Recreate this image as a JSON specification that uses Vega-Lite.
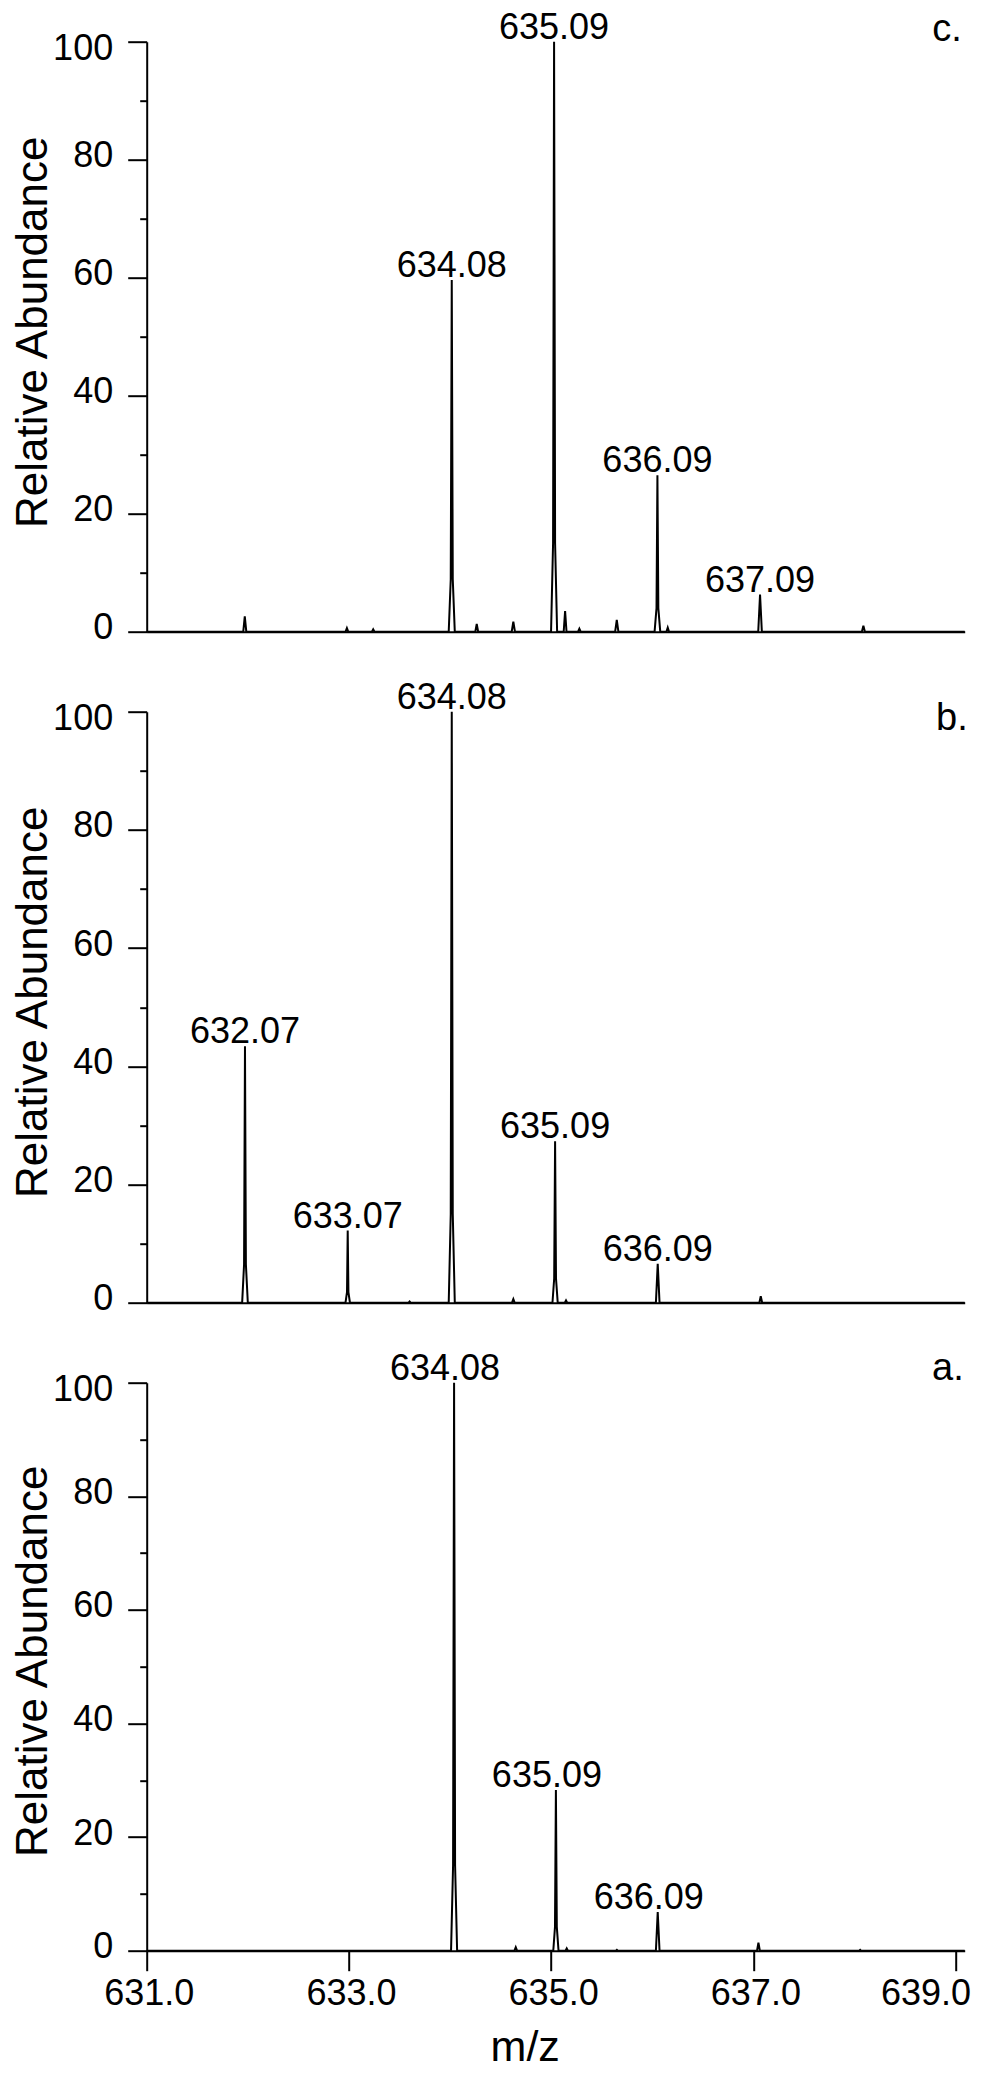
{
  "$schema": "https://vega.github.io/schema/vega-lite/v6.json",
  "autosize": {"type": "none"},
  "padding": {"left": 146.7, "top": 41.7, "right": 836.3, "bottom": 2032.3},
  "background": "white",
  "bounds": "flush",
  "spacing": 80,
  "datasets": {
    "spectrum": [
      {"panel": "c", "mz": 631.0, "ab": 0},
      {"panel": "c", "mz": 631.955, "ab": 0}, {"panel": "c", "mz": 631.97, "ab": 2.6}, {"panel": "c", "mz": 631.985, "ab": 0},
      {"panel": "c", "mz": 632.967, "ab": 0}, {"panel": "c", "mz": 632.98, "ab": 0.6}, {"panel": "c", "mz": 632.993, "ab": 0},
      {"panel": "c", "mz": 633.227, "ab": 0}, {"panel": "c", "mz": 633.24, "ab": 0.4}, {"panel": "c", "mz": 633.253, "ab": 0},
      {"panel": "c", "mz": 633.987, "ab": 0}, {"panel": "c", "mz": 634.007, "ab": 8.9}, {"panel": "c", "mz": 634.017, "ab": 59.6}, {"panel": "c", "mz": 634.027, "ab": 8.9}, {"panel": "c", "mz": 634.047, "ab": 0},
      {"panel": "c", "mz": 634.25, "ab": 0}, {"panel": "c", "mz": 634.264, "ab": 1.3}, {"panel": "c", "mz": 634.278, "ab": 0},
      {"panel": "c", "mz": 634.61, "ab": 0}, {"panel": "c", "mz": 634.626, "ab": 1.7}, {"panel": "c", "mz": 634.642, "ab": 0},
      {"panel": "c", "mz": 634.999, "ab": 0}, {"panel": "c", "mz": 635.019, "ab": 15}, {"panel": "c", "mz": 635.029, "ab": 100}, {"panel": "c", "mz": 635.039, "ab": 15}, {"panel": "c", "mz": 635.059, "ab": 0},
      {"panel": "c", "mz": 635.124, "ab": 0}, {"panel": "c", "mz": 635.138, "ab": 3.5}, {"panel": "c", "mz": 635.152, "ab": 0},
      {"panel": "c", "mz": 635.266, "ab": 0}, {"panel": "c", "mz": 635.279, "ab": 0.5}, {"panel": "c", "mz": 635.292, "ab": 0},
      {"panel": "c", "mz": 635.633, "ab": 0}, {"panel": "c", "mz": 635.649, "ab": 2.0}, {"panel": "c", "mz": 635.665, "ab": 0},
      {"panel": "c", "mz": 636.023, "ab": 0}, {"panel": "c", "mz": 636.042, "ab": 4}, {"panel": "c", "mz": 636.051, "ab": 26.5}, {"panel": "c", "mz": 636.06, "ab": 4}, {"panel": "c", "mz": 636.079, "ab": 0},
      {"panel": "c", "mz": 636.14, "ab": 0}, {"panel": "c", "mz": 636.153, "ab": 0.7}, {"panel": "c", "mz": 636.166, "ab": 0},
      {"panel": "c", "mz": 637.048, "ab": 0}, {"panel": "c", "mz": 637.066, "ab": 6.3}, {"panel": "c", "mz": 637.084, "ab": 0},
      {"panel": "c", "mz": 638.073, "ab": 0}, {"panel": "c", "mz": 638.088, "ab": 1.0}, {"panel": "c", "mz": 638.103, "ab": 0},
      {"panel": "c", "mz": 639.09, "ab": 0},

      {"panel": "b", "mz": 631.0, "ab": 0},
      {"panel": "b", "mz": 631.944, "ab": 0}, {"panel": "b", "mz": 631.963, "ab": 6.5}, {"panel": "b", "mz": 631.972, "ab": 43.4}, {"panel": "b", "mz": 631.981, "ab": 6.5}, {"panel": "b", "mz": 632.0, "ab": 0},
      {"panel": "b", "mz": 632.966, "ab": 0}, {"panel": "b", "mz": 632.981, "ab": 1.8}, {"panel": "b", "mz": 632.988, "ab": 12.2}, {"panel": "b", "mz": 632.995, "ab": 1.8}, {"panel": "b", "mz": 633.01, "ab": 0},
      {"panel": "b", "mz": 633.59, "ab": 0}, {"panel": "b", "mz": 633.6, "ab": 0.2}, {"panel": "b", "mz": 633.61, "ab": 0},
      {"panel": "b", "mz": 633.987, "ab": 0}, {"panel": "b", "mz": 634.007, "ab": 15}, {"panel": "b", "mz": 634.017, "ab": 100}, {"panel": "b", "mz": 634.027, "ab": 15}, {"panel": "b", "mz": 634.047, "ab": 0},
      {"panel": "b", "mz": 634.613, "ab": 0}, {"panel": "b", "mz": 634.626, "ab": 0.6}, {"panel": "b", "mz": 634.639, "ab": 0},
      {"panel": "b", "mz": 635.013, "ab": 0}, {"panel": "b", "mz": 635.03, "ab": 4.1}, {"panel": "b", "mz": 635.039, "ab": 27.3}, {"panel": "b", "mz": 635.048, "ab": 4.1}, {"panel": "b", "mz": 635.065, "ab": 0},
      {"panel": "b", "mz": 635.135, "ab": 0}, {"panel": "b", "mz": 635.147, "ab": 0.4}, {"panel": "b", "mz": 635.159, "ab": 0},
      {"panel": "b", "mz": 636.036, "ab": 0}, {"panel": "b", "mz": 636.054, "ab": 6.6}, {"panel": "b", "mz": 636.072, "ab": 0},
      {"panel": "b", "mz": 637.059, "ab": 0}, {"panel": "b", "mz": 637.073, "ab": 1.1}, {"panel": "b", "mz": 637.087, "ab": 0},
      {"panel": "b", "mz": 639.09, "ab": 0},

      {"panel": "a", "mz": 631.0, "ab": 0},
      {"panel": "a", "mz": 634.01, "ab": 0}, {"panel": "a", "mz": 634.03, "ab": 15}, {"panel": "a", "mz": 634.04, "ab": 100}, {"panel": "a", "mz": 634.05, "ab": 15}, {"panel": "a", "mz": 634.07, "ab": 0},
      {"panel": "a", "mz": 634.637, "ab": 0}, {"panel": "a", "mz": 634.65, "ab": 0.6}, {"panel": "a", "mz": 634.663, "ab": 0},
      {"panel": "a", "mz": 635.021, "ab": 0}, {"panel": "a", "mz": 635.038, "ab": 4.2}, {"panel": "a", "mz": 635.047, "ab": 28.3}, {"panel": "a", "mz": 635.056, "ab": 4.2}, {"panel": "a", "mz": 635.073, "ab": 0},
      {"panel": "a", "mz": 635.142, "ab": 0}, {"panel": "a", "mz": 635.154, "ab": 0.4}, {"panel": "a", "mz": 635.166, "ab": 0},
      {"panel": "a", "mz": 635.64, "ab": 0}, {"panel": "a", "mz": 635.65, "ab": 0.15}, {"panel": "a", "mz": 635.66, "ab": 0},
      {"panel": "a", "mz": 636.036, "ab": 0}, {"panel": "a", "mz": 636.054, "ab": 6.8}, {"panel": "a", "mz": 636.072, "ab": 0},
      {"panel": "a", "mz": 637.036, "ab": 0}, {"panel": "a", "mz": 637.05, "ab": 1.4}, {"panel": "a", "mz": 637.064, "ab": 0},
      {"panel": "a", "mz": 638.046, "ab": 0}, {"panel": "a", "mz": 638.056, "ab": 0.15}, {"panel": "a", "mz": 638.066, "ab": 0},
      {"panel": "a", "mz": 639.09, "ab": 0}
    ],
    "peaks": [
      {"panel": "c", "mz": 634.017, "ab": 59.6, "label": "634.08"},
      {"panel": "c", "mz": 635.029, "ab": 100, "label": "635.09"},
      {"panel": "c", "mz": 636.051, "ab": 26.5, "label": "636.09"},
      {"panel": "c", "mz": 637.066, "ab": 6.3, "label": "637.09"},
      {"panel": "b", "mz": 631.972, "ab": 43.4, "label": "632.07"},
      {"panel": "b", "mz": 632.988, "ab": 12.2, "label": "633.07"},
      {"panel": "b", "mz": 634.017, "ab": 100, "label": "634.08"},
      {"panel": "b", "mz": 635.039, "ab": 27.3, "label": "635.09"},
      {"panel": "b", "mz": 636.054, "ab": 6.6, "label": "636.09"},
      {"panel": "a", "mz": 634.04, "ab": 100, "label": "634.08"},
      {"panel": "a", "mz": 635.047, "ab": 28.3, "label": "635.09"},
      {"panel": "a", "mz": 636.054, "ab": 6.8, "label": "636.09"}
    ],
    "panelnames": [
      {"panel": "c", "letter": "c."},
      {"panel": "b", "letter": "b."},
      {"panel": "a", "letter": "a."}
    ]
  },
  "vconcat": [
    {
      "width": 818, "height": 590,
      "layer": [
        {"data": {"name": "spectrum"}, "transform": [{"filter": "datum.panel === 'c'"}],
         "mark": {"type": "line", "color": "black", "strokeWidth": 2},
         "encoding": {
           "x": {"field": "mz", "type": "quantitative", "scale": {"domain": [631, 639.09], "nice": false, "zero": false},
                 "axis": {"ticks": false, "labels": false, "title": null, "grid": false, "domainColor": "black", "domainWidth": 2}},
           "y": {"field": "ab", "type": "quantitative", "scale": {"domain": [0, 100], "nice": false},
                 "axis": {"values": [0,5,10,15,20,25,30,35,40,45,50,55,60,65,70,75,80,85,90,95,100],
                          "tickSize": {"condition": {"test": "datum.value % 20 === 0", "value": 19}, "value": 7},
                          "labelExpr": "datum.value % 20 === 0 ? datum.label : ''",
                          "labelOffset": {"condition": {"test": "datum.value === 100", "value": 7}, "value": -4},
                          "labelPadding": 15, "labelFontSize": 36, "labelOverlap": false, "labelFlush": false, "labelBound": false,
                          "tickColor": "black", "tickWidth": 2, "domainColor": "black", "domainWidth": 2, "grid": false,
                          "title": "Relative Abundance", "titleFontSize": 44, "titleFontWeight": "normal",
                          "titleX": -100, "titleY": 290, "titleAngle": -90, "titleBaseline": "alphabetic", "titleAlign": "center"}}
         }},
        {"data": {"name": "peaks"}, "transform": [{"filter": "datum.panel === 'c'"}],
         "mark": {"type": "text", "baseline": "alphabetic", "align": "center", "dy": -3, "fontSize": 36, "color": "black"},
         "encoding": {"x": {"field": "mz", "type": "quantitative"}, "y": {"field": "ab", "type": "quantitative"}, "text": {"field": "label", "type": "nominal"}}},
        {"data": {"name": "panelnames"}, "transform": [{"filter": "datum.panel === 'c'"}],
         "mark": {"type": "text", "baseline": "alphabetic", "align": "right", "dx": -3, "dy": -1, "fontSize": 38, "color": "black"},
         "encoding": {"x": {"datum": 639.09, "type": "quantitative"}, "y": {"datum": 100, "type": "quantitative"}, "text": {"field": "letter", "type": "nominal"}}}
      ]
    },
    {
      "width": 818, "height": 591,
      "layer": [
        {"data": {"name": "spectrum"}, "transform": [{"filter": "datum.panel === 'b'"}],
         "mark": {"type": "line", "color": "black", "strokeWidth": 2},
         "encoding": {
           "x": {"field": "mz", "type": "quantitative", "scale": {"domain": [631, 639.09], "nice": false, "zero": false},
                 "axis": {"ticks": false, "labels": false, "title": null, "grid": false, "domainColor": "black", "domainWidth": 2}},
           "y": {"field": "ab", "type": "quantitative", "scale": {"domain": [0, 100], "nice": false},
                 "axis": {"values": [0,5,10,15,20,25,30,35,40,45,50,55,60,65,70,75,80,85,90,95,100],
                          "tickSize": {"condition": {"test": "datum.value % 20 === 0", "value": 19}, "value": 7},
                          "labelExpr": "datum.value % 20 === 0 ? datum.label : ''",
                          "labelOffset": {"condition": {"test": "datum.value === 100", "value": 7}, "value": -4},
                          "labelPadding": 15, "labelFontSize": 36, "labelOverlap": false, "labelFlush": false, "labelBound": false,
                          "tickColor": "black", "tickWidth": 2, "domainColor": "black", "domainWidth": 2, "grid": false,
                          "title": "Relative Abundance", "titleFontSize": 44, "titleFontWeight": "normal",
                          "titleX": -100, "titleY": 290, "titleAngle": -90, "titleBaseline": "alphabetic", "titleAlign": "center"}}
         }},
        {"data": {"name": "peaks"}, "transform": [{"filter": "datum.panel === 'b'"}],
         "mark": {"type": "text", "baseline": "alphabetic", "align": "center", "dy": -3, "fontSize": 36, "color": "black"},
         "encoding": {"x": {"field": "mz", "type": "quantitative"}, "y": {"field": "ab", "type": "quantitative"}, "text": {"field": "label", "type": "nominal"}}},
        {"data": {"name": "panelnames"}, "transform": [{"filter": "datum.panel === 'b'"}],
         "mark": {"type": "text", "baseline": "alphabetic", "align": "right", "dx": 3, "dy": 18, "fontSize": 38, "color": "black"},
         "encoding": {"x": {"datum": 639.09, "type": "quantitative"}, "y": {"datum": 100, "type": "quantitative"}, "text": {"field": "letter", "type": "nominal"}}}
      ]
    },
    {
      "width": 818, "height": 568,
      "layer": [
        {"data": {"name": "spectrum"}, "transform": [{"filter": "datum.panel === 'a'"}],
         "mark": {"type": "line", "color": "black", "strokeWidth": 2},
         "encoding": {
           "x": {"field": "mz", "type": "quantitative", "scale": {"domain": [631, 639.09], "nice": false, "zero": false},
                 "axis": {"values": [631, 633, 635, 637, 639], "format": ".1f", "tickSize": 20, "tickWidth": 2, "tickColor": "black",
                          "domainColor": "black", "domainWidth": 2, "grid": false,
                          "labelFontSize": 36, "labelPadding": 6, "labelFlush": false, "labelOverlap": false, "labelBound": false,
                          "labelOffset": {"condition": {"test": "datum.value === 639", "value": -30}, "value": 2},
                          "title": "m/z", "titleFontSize": 43, "titleFontWeight": "normal",
                          "titleX": 378, "titleY": 110, "titleBaseline": "alphabetic", "titleAlign": "center"}},
           "y": {"field": "ab", "type": "quantitative", "scale": {"domain": [0, 100], "nice": false},
                 "axis": {"values": [0,5,10,15,20,25,30,35,40,45,50,55,60,65,70,75,80,85,90,95,100],
                          "tickSize": {"condition": {"test": "datum.value % 20 === 0", "value": 19}, "value": 7},
                          "labelExpr": "datum.value % 20 === 0 ? datum.label : ''",
                          "labelOffset": {"condition": {"test": "datum.value === 100", "value": 7}, "value": -4},
                          "labelPadding": 15, "labelFontSize": 36, "labelOverlap": false, "labelFlush": false, "labelBound": false,
                          "tickColor": "black", "tickWidth": 2, "domainColor": "black", "domainWidth": 2, "grid": false,
                          "title": "Relative Abundance", "titleFontSize": 44, "titleFontWeight": "normal",
                          "titleX": -100, "titleY": 278, "titleAngle": -90, "titleBaseline": "alphabetic", "titleAlign": "center"}}
         }},
        {"data": {"name": "peaks"}, "transform": [{"filter": "datum.panel === 'a'"}],
         "mark": {"type": "text", "baseline": "alphabetic", "align": "center", "dx": -9, "dy": -3, "fontSize": 36, "color": "black"},
         "encoding": {"x": {"field": "mz", "type": "quantitative"}, "y": {"field": "ab", "type": "quantitative"}, "text": {"field": "label", "type": "nominal"}}},
        {"data": {"name": "panelnames"}, "transform": [{"filter": "datum.panel === 'a'"}],
         "mark": {"type": "text", "baseline": "alphabetic", "align": "right", "dx": -1, "dy": -3, "fontSize": 38, "color": "black"},
         "encoding": {"x": {"datum": 639.09, "type": "quantitative"}, "y": {"datum": 100, "type": "quantitative"}, "text": {"field": "letter", "type": "nominal"}}}
      ]
    }
  ],
  "config": {
    "view": {"stroke": null},
    "font": "Liberation Sans",
    "axis": {"labelFont": "Liberation Sans", "titleFont": "Liberation Sans", "labelColor": "black", "titleColor": "black"},
    "text": {"font": "Liberation Sans"}
  }
}
